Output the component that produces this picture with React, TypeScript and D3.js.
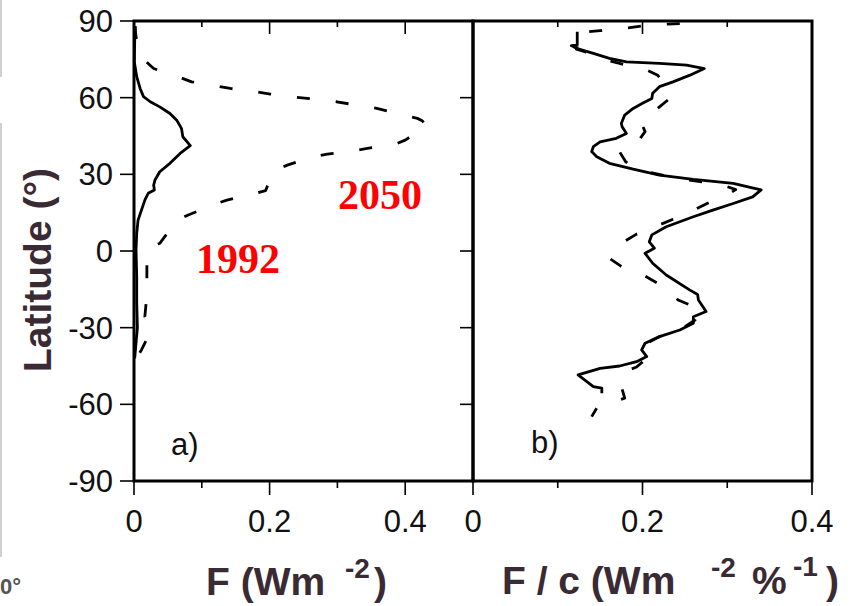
import React, { useRef, useEffect } from 'react';
import * as d3 from 'd3';

// latitude ticks
const latTicks = [90, 60, 30, 0, -30, -60, -90];
const aMajor = [0, 0.2, 0.4];
const aMinor = [0.1, 0.3];
const bMajor = [0, 0.2, 0.4];
const bMinor = [0.1, 0.3];
const aTickLabels = ['0', '0.2', '0.4'];
const bTickLabels = ['0', '0.2', '0.4'];

// panel a) forcing, 1992 (solid)
const a1992Lat = [88, 82, 74, 68.2, 63.6, 60.4, 58.4, 56.4, 53.8, 51.2, 48.0, 44.7, 41.2, 38.2, 34.3, 31.0, 27.8, 25.8, 23.9, 22.6, 19.9, 16.0, 12.1, 6.9, 0.4, -10, -20, -30, -36, -42];
const a1992Val = [0.002, 0.001, 0.0005, 0.004, 0.009, 0.014, 0.024, 0.038, 0.053, 0.063, 0.070, 0.072, 0.083, 0.068, 0.053, 0.038, 0.031, 0.029, 0.030, 0.021, 0.016, 0.011, 0.006, 0.004, 0.003, 0.004, 0.004, 0.005, 0.003, 0.001];

// panel a) forcing, 2050 (dashed)
const a2050Lat = [88, 82, 75.0, 71.4, 67.9, 66.2, 64.5, 63.6, 62.3, 61.4, 60.1, 59.6, 58.4, 57.5, 55.8, 54.5, 51.9, 51.0, 48.9, 43.4, 41.5, 40.2, 39.2, 37.9, 36.9, 33.6, 31.4, 27.5, 23.6, 22.3, 19.9, 18.4, 14.1, 11.9, 3.0, 1.1, -4, -10, -14.6, -20, -25.7, -30.2, -35, -38.7, -42.6];
const a2050Val = [0.001, 0.004, 0.014, 0.029, 0.068, 0.085, 0.122, 0.142, 0.181, 0.201, 0.240, 0.260, 0.299, 0.319, 0.358, 0.378, 0.418, 0.425, 0.432, 0.400, 0.383, 0.344, 0.324, 0.285, 0.265, 0.226, 0.208, 0.200, 0.194, 0.176, 0.137, 0.120, 0.080, 0.063, 0.038, 0.024, 0.019, 0.019, 0.019, 0.018, 0.016, 0.024, 0.018, 0.011, 0.002];

// panel b) forcing per unit, 1992 (solid)
const b1992Lat = [85.8, 80.6, 80.4, 79.3, 77.3, 75.4, 74.0, 73.4, 72.7, 71.4, 68.8, 66.2, 64.3, 61.7, 59.7, 57.8, 55.8, 53.2, 49.9, 48.6, 46.0, 44.1, 42.7, 40.8, 38.9, 36.9, 34.3, 32.0, 29.7, 28.0, 26.5, 24.9, 23.9, 21.2, 18.6, 16.0, 13.4, 9.5, 6.3, 3.6, 1.1, -0.9, -4.8, -9.4, -15.3, -17, -19.2, -23.7, -25.7, -28.3, -30.9, -33.5, -36.1, -38.7, -41.3, -43.3, -45.0, -45.9, -48.5, -50.5, -53.1, -53.7, -55.7];
const b1992Val = [0.123, 0.123, 0.116, 0.122, 0.142, 0.161, 0.181, 0.220, 0.252, 0.273, 0.256, 0.236, 0.220, 0.212, 0.211, 0.200, 0.189, 0.179, 0.175, 0.176, 0.181, 0.169, 0.150, 0.142, 0.140, 0.146, 0.161, 0.189, 0.220, 0.260, 0.307, 0.327, 0.340, 0.330, 0.307, 0.283, 0.260, 0.228, 0.211, 0.208, 0.214, 0.203, 0.212, 0.228, 0.256, 0.265, 0.266, 0.275, 0.260, 0.260, 0.244, 0.220, 0.203, 0.199, 0.205, 0.193, 0.173, 0.150, 0.124, 0.132, 0.142, 0.152, 0.152];

// panel b) forcing per unit, 2050 (dashed)
const b2050Lat = [89.0, 88.8, 88.0, 87.3, 86.2, 85.8, 85.5, 80, 79, 77, 74.7, 73.4, 70.8, 68.8, 64, 61, 59.1, 56.4, 52, 49.9, 46.7, 43, 40.8, 38.8, 35, 32.6, 31.4, 28.7, 28.0, 26.5, 25.8, 24, 20.6, 19.0, 14.1, 12.4, 8.2, 6.6, 3, 0.1, -2.9, -6, -8.1, -9.8, -15.3, -19.2, -23, -27, -31, -33.5, -36.5, -39, -42, -45.4, -47.2, -50, -53, -57.6, -59.5, -61.5, -64.8];
const b2050Val = [0.244, 0.230, 0.199, 0.183, 0.150, 0.136, 0.123, 0.123, 0.122, 0.142, 0.157, 0.173, 0.205, 0.218, 0.228, 0.232, 0.230, 0.220, 0.205, 0.199, 0.203, 0.195, 0.187, 0.173, 0.180, 0.189, 0.201, 0.236, 0.248, 0.283, 0.295, 0.310, 0.293, 0.279, 0.248, 0.236, 0.205, 0.193, 0.175, 0.167, 0.161, 0.175, 0.191, 0.203, 0.232, 0.242, 0.270, 0.262, 0.244, 0.220, 0.203, 0.200, 0.205, 0.193, 0.179, 0.176, 0.175, 0.179, 0.160, 0.146, 0.140];

const labelColor = '#3a2a34';
const sans = '"Liberation Sans", Arial, Helvetica, sans-serif';

const App = () => {
    const svgref = useRef(null);

    useEffect(() => {
        const svg = d3.select(svgref.current);
        svg.selectAll('*').remove();

        const y = d3.scaleLinear().domain([-90, 90]).range([481, 21]);
        const xa = d3.scaleLinear().domain([0, 0.5]).range([134, 473]);
        const xb = d3.scaleLinear().domain([0, 0.4]).range([473, 812]);

        // stray bits of the neighbouring figure on the left
        svg.append('line').attr('x1', 1).attr('x2', 1).attr('y1', 0).attr('y2', 77)
            .attr('stroke', '#d0d0d0').attr('stroke-width', 2);
        svg.append('line').attr('x1', 1).attr('x2', 1).attr('y1', 123).attr('y2', 557)
            .attr('stroke', '#d0d0d0').attr('stroke-width', 2);
        svg.append('text').attr('x', 0).attr('y', 594).text('0°')
            .attr('font-family', sans).attr('font-size', 22).attr('font-weight', 'bold').attr('fill', '#555');

        const tick = (x1, y1, x2, y2) => svg.append('line')
            .attr('x1', x1).attr('y1', y1).attr('x2', x2).attr('y2', y2)
            .attr('stroke', '#000').attr('stroke-width', 1.6);

        // y ticks: outward on left, inward on the shared edge
        latTicks.forEach(t => tick(120, y(t), 134, y(t)));
        latTicks.filter(t => Math.abs(t) < 90).forEach(t => tick(460, y(t), 473, y(t)));

        // top ticks (inward) and bottom ticks (outward)
        aMajor.filter(v => v > 0).forEach(v => tick(xa(v), 21, xa(v), 34));
        aMinor.forEach(v => tick(xa(v), 21, xa(v), 27));
        bMajor.filter(v => v > 0 && v < 0.4).forEach(v => tick(xb(v), 21, xb(v), 34));
        bMinor.forEach(v => tick(xb(v), 21, xb(v), 27));
        aMajor.forEach(v => tick(xa(v), 481, xa(v), 495));
        aMinor.forEach(v => tick(xa(v), 481, xa(v), 488));
        bMajor.forEach(v => tick(xb(v), 481, xb(v), 495));
        bMinor.forEach(v => tick(xb(v), 481, xb(v), 488));

        // tick labels
        svg.append('g').selectAll('text').data(latTicks).join('text')
            .attr('x', 113).attr('y', d => y(d)).attr('dy', '0.36em')
            .attr('text-anchor', 'end').attr('font-family', sans).attr('font-size', 31)
            .attr('fill', '#111').text(d => d);
        svg.append('g').selectAll('text').data(aMajor).join('text')
            .attr('x', d => xa(d)).attr('y', 532)
            .attr('text-anchor', 'middle').attr('font-family', sans).attr('font-size', 31)
            .attr('fill', '#111').text((d, i) => aTickLabels[i]);
        svg.append('g').selectAll('text').data(bMajor).join('text')
            .attr('x', d => xb(d)).attr('y', 532)
            .attr('text-anchor', 'middle').attr('font-family', sans).attr('font-size', 31)
            .attr('fill', '#111').text((d, i) => bTickLabels[i]);

        // data lines
        const drawLine = (lats, vals, x, dashed) => {
            const line = d3.line().x(d => x(d[0])).y(d => y(d[1]));
            svg.append('path')
                .datum(vals.map((v, i) => [v, lats[i]]))
                .attr('d', line)
                .attr('fill', 'none')
                .attr('stroke', '#000')
                .attr('stroke-width', 2.8)
                .attr('stroke-linejoin', 'round')
                .attr('stroke-dasharray', dashed ? '13,26' : null);
        };
        drawLine(a1992Lat, a1992Val, xa, false);
        drawLine(a2050Lat, a2050Val, xa, true);
        drawLine(b1992Lat, b1992Val, xb, false);
        drawLine(b2050Lat, b2050Val, xb, true);

        // frames
        svg.append('rect').attr('x', 134).attr('y', 21).attr('width', 339).attr('height', 460)
            .attr('fill', 'none').attr('stroke', '#000').attr('stroke-width', 3);
        svg.append('rect').attr('x', 473).attr('y', 21).attr('width', 339).attr('height', 460)
            .attr('fill', 'none').attr('stroke', '#000').attr('stroke-width', 3);

        // panel letters
        svg.append('text').attr('x', 171).attr('y', 455).text('a)')
            .attr('font-family', sans).attr('font-size', 31).attr('fill', '#111');
        svg.append('text').attr('x', 531).attr('y', 453).text('b)')
            .attr('font-family', sans).attr('font-size', 31).attr('fill', '#111');

        // year labels
        const serif = '"Liberation Serif", "Times New Roman", serif';
        svg.append('text').attr('x', 338).attr('y', 209).text('2050')
            .attr('font-family', serif).attr('font-weight', 'bold').attr('font-size', 42).attr('fill', '#ff0000');
        svg.append('text').attr('x', 196).attr('y', 273).text('1992')
            .attr('font-family', serif).attr('font-weight', 'bold').attr('font-size', 42).attr('fill', '#ff0000');

        // axis titles
        svg.append('text')
            .attr('transform', 'translate(51,270) rotate(-90)')
            .attr('text-anchor', 'middle')
            .attr('font-family', sans).attr('font-weight', 'bold').attr('font-size', 39)
            .attr('fill', labelColor).text('Latitude (°)');

        const bold = (x, yy, size, str) => svg.append('text').attr('x', x).attr('y', yy)
            .attr('font-family', sans).attr('font-weight', 'bold').attr('font-size', size)
            .attr('fill', labelColor).text(str);
        bold(206, 595, 39, 'F (Wm');
        bold(345, 578, 28, '-2');
        bold(374, 595, 39, ')');

        bold(502, 594, 39, 'F / c (Wm');
        bold(711, 577, 28, '-2');
        bold(752, 594, 39, '%');
        bold(793, 576, 28, '-1');
        bold(826, 594, 39, ')');
    }, []);

    return (
        <div>
            <svg ref={svgref} width={865} height={606}
                style={{ position: 'absolute', left: 0, top: 0, background: '#fff' }} />
        </div>
    );
};

export default App;
